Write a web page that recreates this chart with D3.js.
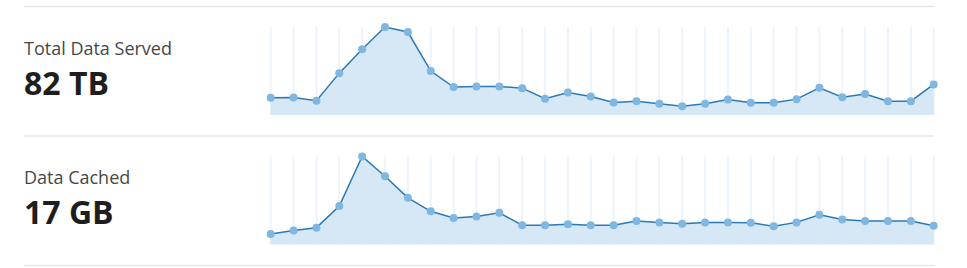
<!DOCTYPE html>
<html>
<head>
<meta charset="utf-8">
<script src="https://cdn.jsdelivr.net/npm/d3@7"></script>
<style>
  body { margin: 0; background: #fff; }
  svg { display: block; font-family: "Open Sans", "Noto Sans", sans-serif; }
</style>
</head>
<body>
<div id="chart"></div>
<script>
// 30 days of traffic
const days = d3.range(1, 31);

// TB per day
const servedValues = [1.82, 1.85, 1.50, 4.41, 6.92, 9.27, 8.74, 4.63, 2.94, 3.01,
  3.01, 2.83, 1.71, 2.38, 1.95, 1.32, 1.46, 1.18, 0.93, 1.18,
  1.64, 1.29, 1.29, 1.67, 2.87, 1.88, 2.20, 1.46, 1.46, 3.22];

// GB per day
const cachedValues = [0.22, 0.29, 0.35, 0.80, 1.83, 1.42, 0.97, 0.69, 0.55, 0.58,
  0.66, 0.40, 0.40, 0.42, 0.40, 0.40, 0.49, 0.46, 0.43, 0.46,
  0.46, 0.45, 0.38, 0.46, 0.62, 0.52, 0.49, 0.49, 0.49, 0.39];

const titles = ["Total Data Served", "Data Cached"];
const totals = ["82 TB", "17 GB"];
const seriesList = [servedValues, cachedValues];

const width = 967, height = 268;
const rowTop = 6.5;      // first separator
const rowHeight = 129.5;
const lineX0 = 24, lineX1 = 934;
const plotTop = 20.5, plotBottom = 108.5; // inside a row

const svg = d3.select("#chart").append("svg")
  .attr("width", width)
  .attr("height", height);

// separators
svg.selectAll("line.sep")
  .data(d3.range(seriesList.length + 1))
  .enter().append("line")
  .attr("class", "sep")
  .attr("x1", lineX0).attr("x2", lineX1)
  .attr("y1", i => rowTop + i * rowHeight)
  .attr("y2", i => rowTop + i * rowHeight)
  .attr("stroke", "#e6e6e6")
  .attr("stroke-width", 1.5);

const x = d3.scalePoint()
  .domain(days)
  .range([270.7, 933.7]);

seriesList.forEach((values, i) => {
  const g = svg.append("g")
    .attr("transform", `translate(0,${rowTop + i * rowHeight})`);

  // 제목
  g.append("text")
    .attr("x", lineX0)
    .attr("y", 48)
    .attr("fill", "#474747")
    .style("font-size", "18px")
    .text(titles[i]);

  g.append("text")
    .attr("x", lineX0)
    .attr("y", 88)
    .attr("fill", "#1e1e1e")
    .style("font-size", "32px")
    .style("font-weight", "bold")
    .text(totals[i]);

  const y = d3.scaleLinear()
    .domain([0, d3.max(values)])
    .range([plotBottom, plotTop]);

  const data = days.map((d, k) => ({ day: d, value: values[k] }));

  // 세로 그리드
  g.selectAll("line.grid")
    .data(days)
    .enter().append("line")
    .attr("class", "grid")
    .attr("x1", d => x(d)).attr("x2", d => x(d))
    .attr("y1", plotTop).attr("y2", plotBottom)
    .attr("stroke", "#edf4fb")
    .attr("stroke-width", 2);

  const area = d3.area()
    .x(d => x(d.day))
    .y0(plotBottom)
    .y1(d => y(d.value));

  const line = d3.line()
    .x(d => x(d.day))
    .y(d => y(d.value));

  g.append("path")
    .datum(data)
    .attr("d", area)
    .attr("fill", "#d6e7f5");

  g.append("path")
    .datum(data)
    .attr("d", line)
    .attr("fill", "none")
    .attr("stroke", "#2b79b6")
    .attr("stroke-width", 1.5);

  g.selectAll("circle")
    .data(data)
    .enter().append("circle")
    .attr("cx", d => x(d.day))
    .attr("cy", d => y(d.value))
    .attr("r", 4)
    .attr("fill", "#7fb7e0");
});
</script>
</body>
</html>
